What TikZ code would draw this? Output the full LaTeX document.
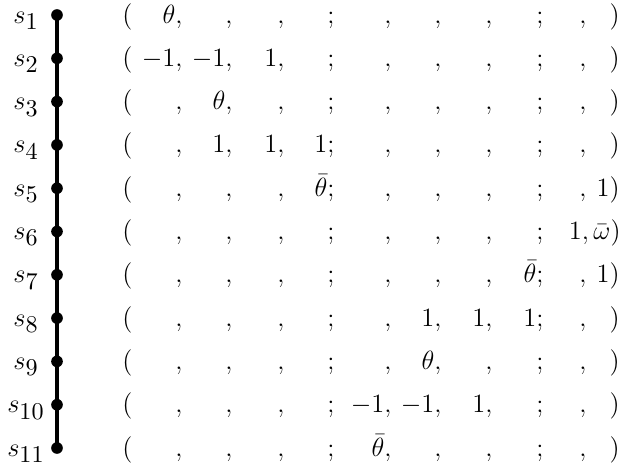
\documentclass[tikz,border=0pt]{standalone}
\begin{document}
\begin{tikzpicture}[x=0.4545pt,y=-0.4545pt,
  font=\fontsize{12}{14}\selectfont,
  ent/.style={anchor=base east,inner sep=0pt},
  lab/.style={anchor=base west,inner sep=0pt},
  slab/.style={anchor=base,inner sep=0pt},
  dot/.style={circle,fill=black,inner sep=0pt,minimum size=5.3pt},
  spine/.style={line width=2.1pt}]
\useasboundingbox (0,0) rectangle (626,474);
\expandafter\def\csname cx1\endcsname{183}
\expandafter\def\csname cx2\endcsname{233}
\expandafter\def\csname cx3\endcsname{285}
\expandafter\def\csname cx4\endcsname{335}
\expandafter\def\csname cx5\endcsname{392}
\expandafter\def\csname cx6\endcsname{442}
\expandafter\def\csname cx7\endcsname{493}
\expandafter\def\csname cx8\endcsname{544}
\expandafter\def\csname cx9\endcsname{587}
\expandafter\def\csname cx10\endcsname{620}
\newcommand\myrow[2]{%
  \node[slab] (s#1) at (26,{23+43.3*(#1-1)}) {$s_{\hbox{\fontsize{10.5}{12}\selectfont$#1$}}$};
  \node[dot] (d#1) at (57,{15+43.3*(#1-1)}) {};
  \node[lab] (p#1) at (122,{23+43.3*(#1-1)}) {$($};
  \foreach \t [count=\c] in {#2} {
    \node[ent] (r#1c\c) at (\csname cx\c\endcsname,{23+43.3*(#1-1)}) {$\t$};
  }}
\myrow{1}{{\theta,},{,},{,},{;},{,},{,},{,},{;},{,},{)}}
\myrow{2}{{-1,},{-1,},{1,},{;},{,},{,},{,},{;},{,},{)}}
\myrow{3}{{,},{\theta,},{,},{;},{,},{,},{,},{;},{,},{)}}
\myrow{4}{{,},{1,},{1,},{1;},{,},{,},{,},{;},{,},{)}}
\myrow{5}{{,},{,},{,},{\bar\theta;},{,},{,},{,},{;},{,},{1)}}
\myrow{6}{{,},{,},{,},{;},{,},{,},{,},{;}}
\node[ent] (r6c9) at (621,{23+43.3*5}) {$1,\bar\omega)$};
\myrow{7}{{,},{,},{,},{;},{,},{,},{,},{\bar\theta;},{,},{1)}}
\myrow{8}{{,},{,},{,},{;},{,},{1,},{1,},{1;},{,},{)}}
\myrow{9}{{,},{,},{,},{;},{,},{\theta,},{,},{;},{,},{)}}
\myrow{10}{{,},{,},{,},{;},{-1,},{-1,},{1,},{;},{,},{)}}
\myrow{11}{{,},{,},{,},{;},{\bar\theta,},{,},{,},{;},{,},{)}}
\draw[spine] (d1.center) -- (d11.center);
\end{tikzpicture}
\end{document}
